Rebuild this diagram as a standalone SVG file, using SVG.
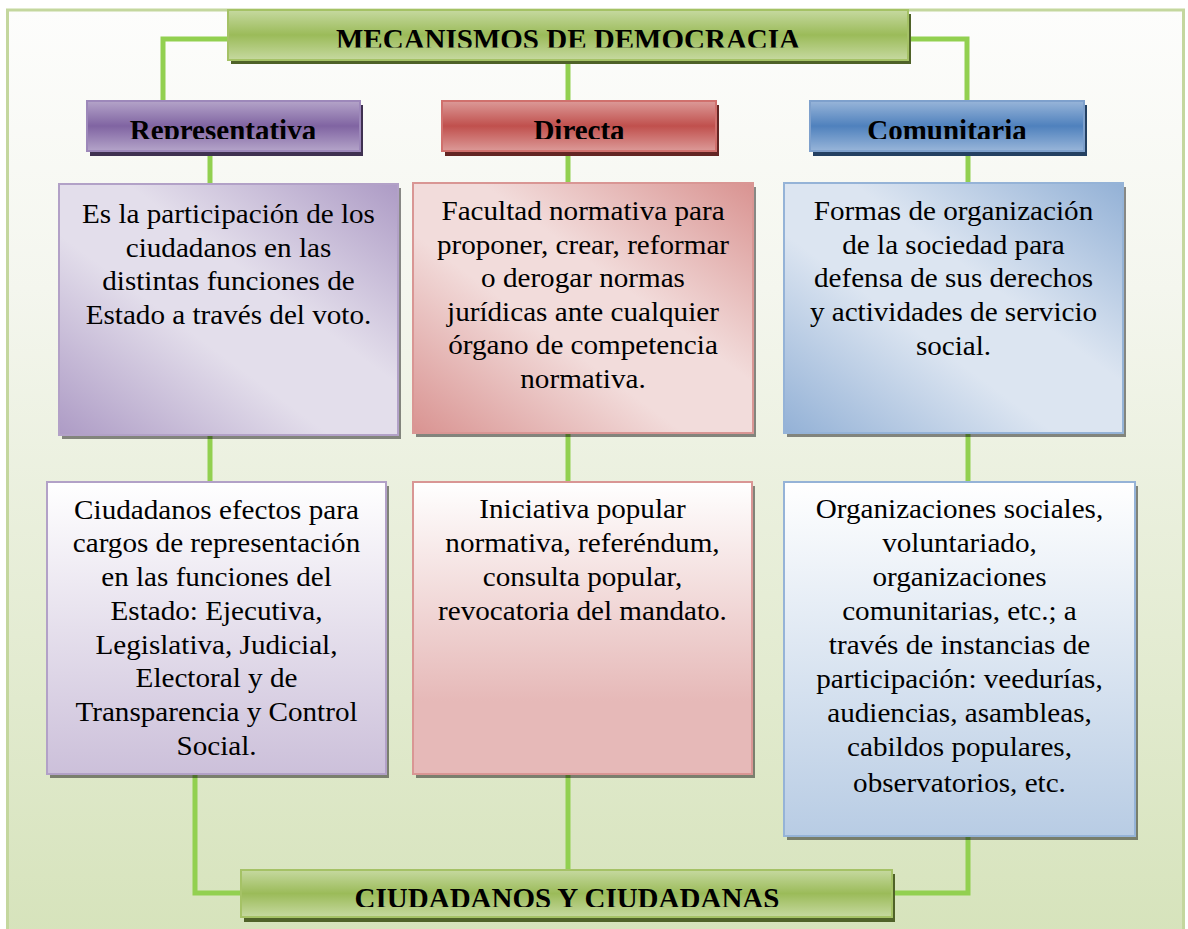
<svg xmlns="http://www.w3.org/2000/svg" width="1188" height="929" viewBox="0 0 1188 929">
<defs>
<linearGradient id="bg" x1="0" y1="0" x2="0" y2="1">
<stop offset="0" stop-color="#fdfdfc"/>
<stop offset="0.3" stop-color="#f4f6ee"/>
<stop offset="1" stop-color="#d6e3bb"/>
</linearGradient>
<linearGradient id="hGreen" x1="0" y1="0" x2="0" y2="1">
<stop offset="0" stop-color="#c6d9a0"/><stop offset="0.5" stop-color="#9bbb59"/><stop offset="1" stop-color="#c6d9a0"/>
</linearGradient>
<linearGradient id="hPurple" x1="0" y1="0" x2="0" y2="1">
<stop offset="0" stop-color="#b4a4c9"/><stop offset="0.5" stop-color="#8064a2"/><stop offset="1" stop-color="#b4a4c9"/>
</linearGradient>
<linearGradient id="hRed" x1="0" y1="0" x2="0" y2="1">
<stop offset="0" stop-color="#dc9a98"/><stop offset="0.5" stop-color="#c0504d"/><stop offset="1" stop-color="#dc9a98"/>
</linearGradient>
<linearGradient id="hBlue" x1="0" y1="0" x2="0" y2="1">
<stop offset="0" stop-color="#98b5d9"/><stop offset="0.5" stop-color="#4f81bd"/><stop offset="1" stop-color="#98b5d9"/>
</linearGradient>
<linearGradient id="dPurple" x1="1" y1="0" x2="0" y2="1">
<stop offset="0" stop-color="#ad9bc5"/><stop offset="0.4" stop-color="#e3deeb"/><stop offset="0.6" stop-color="#e3deeb"/><stop offset="1" stop-color="#ad9bc5"/>
</linearGradient>
<linearGradient id="dRed" x1="1" y1="0" x2="0" y2="1">
<stop offset="0" stop-color="#d99391"/><stop offset="0.4" stop-color="#f2dcdb"/><stop offset="0.6" stop-color="#f2dcdb"/><stop offset="1" stop-color="#d99391"/>
</linearGradient>
<linearGradient id="dBlue" x1="1" y1="0" x2="0" y2="1">
<stop offset="0" stop-color="#93b1d6"/><stop offset="0.4" stop-color="#dce5f1"/><stop offset="0.6" stop-color="#dce5f1"/><stop offset="1" stop-color="#93b1d6"/>
</linearGradient>
<linearGradient id="vPurple" x1="0" y1="0" x2="0" y2="1">
<stop offset="0" stop-color="#ffffff"/><stop offset="1" stop-color="#ccc0da"/>
</linearGradient>
<linearGradient id="vRed" x1="0" y1="0" x2="0" y2="1">
<stop offset="0" stop-color="#ffffff"/><stop offset="0.75" stop-color="#e6b9b8"/><stop offset="1" stop-color="#e6b9b8"/>
</linearGradient>
<linearGradient id="vBlue" x1="0" y1="0" x2="0" y2="1">
<stop offset="0" stop-color="#ffffff"/><stop offset="1" stop-color="#b8cce4"/>
</linearGradient>
<clipPath id="cTop"><rect x="228" y="10" width="680" height="37.5"/></clipPath>
<clipPath id="cMid"><rect x="80" y="101" width="1010" height="38"/></clipPath>
<clipPath id="cBot"><rect x="241" y="870" width="651" height="37"/></clipPath>
<style>
.conn{fill:none;stroke:#92d050;stroke-width:5;stroke-linejoin:miter}
.hd{font-family:"Liberation Serif","Times New Roman",serif;font-weight:bold;font-size:29px;text-anchor:middle;fill:#000}
.tx{font-family:"Liberation Serif","Times New Roman",serif;font-size:26.5px;text-anchor:middle;fill:#000}
.sh{fill:#000;fill-opacity:0.45}
</style>
</defs>

<rect x="0" y="0" width="1188" height="929" fill="#ffffff"/>
<rect x="7.5" y="10" width="1176" height="930" fill="url(#bg)" stroke="#c4d79e" stroke-width="3"/>

<g id="connectors">
<polyline class="conn" points="228,39 163,39 163,101"/>
<polyline class="conn" points="568,60 568,101"/>
<polyline class="conn" points="908,39 967,39 967,101"/>
<polyline class="conn" points="210,151 210,184"/>
<polyline class="conn" points="568,151 568,183"/>
<polyline class="conn" points="968,151 968,183"/>
<polyline class="conn" points="210,435 210,482"/>
<polyline class="conn" points="568,433 568,482"/>
<polyline class="conn" points="968,433 968,482"/>
<polyline class="conn" points="195,774 195,893 241,893"/>
<polyline class="conn" points="568,774 568,870"/>
<polyline class="conn" points="968,836 968,893 892,893"/>
</g>

<g id="mecanismos">
<rect x="231" y="14" width="680" height="50" fill="#4f6228"/>
<rect x="228" y="10" width="680" height="50" fill="url(#hGreen)" stroke="#a5c266" stroke-width="2"/>
<text class="hd" x="568" y="49" clip-path="url(#cTop)">MECANISMOS DE DEMOCRACIA</text>
</g>

<g id="representativa">
<rect x="90" y="105" width="273" height="51" fill="#3f3151"/>
<rect x="87" y="101" width="273" height="50" fill="url(#hPurple)" stroke="#9d88ba" stroke-width="2"/>
<text class="hd" x="223" y="140" clip-path="url(#cMid)">Representativa</text>
</g>

<g id="directa">
<rect x="445" y="105" width="274" height="51" fill="#632523"/>
<rect x="442" y="101" width="274" height="50" fill="url(#hRed)" stroke="#d0706d" stroke-width="2"/>
<text class="hd" x="579" y="140" clip-path="url(#cMid)">Directa</text>
</g>

<g id="comunitaria">
<rect x="813" y="105" width="274" height="51" fill="#244061"/>
<rect x="810" y="101" width="274" height="50" fill="url(#hBlue)" stroke="#7ea0cc" stroke-width="2"/>
<text class="hd" x="947" y="140" clip-path="url(#cMid)">Comunitaria</text>
</g>

<g id="rep-def">
<rect class="sh" x="62" y="188" width="339" height="251"/>
<rect x="59" y="184" width="339" height="251" fill="url(#dPurple)" stroke="#b2a1c7" stroke-width="2"/>
<text class="tx" transform="translate(228.5 0) scale(1.1 1)"><tspan x="0" y="223">Es la participación de los</tspan><tspan x="0" y="257">ciudadanos en las</tspan><tspan x="0" y="290">distintas funciones de</tspan><tspan x="0" y="324">Estado a través del voto.</tspan></text>
</g>

<g id="dir-def">
<rect class="sh" x="416" y="187" width="340" height="250"/>
<rect x="413" y="183" width="340" height="250" fill="url(#dRed)" stroke="#d99694" stroke-width="2"/>
<text class="tx" transform="translate(583 0) scale(1.1 1)"><tspan x="0" y="220">Facultad normativa para</tspan><tspan x="0" y="254">proponer, crear, reformar</tspan><tspan x="0" y="287">o derogar normas</tspan><tspan x="0" y="321">jurídicas ante cualquier</tspan><tspan x="0" y="354">órgano de competencia</tspan><tspan x="0" y="388">normativa.</tspan></text>
</g>

<g id="com-def">
<rect class="sh" x="787" y="187" width="339" height="250"/>
<rect x="784" y="183" width="339" height="250" fill="url(#dBlue)" stroke="#95b3d7" stroke-width="2"/>
<text class="tx" transform="translate(953.5 0) scale(1.1 1)"><tspan x="0" y="220">Formas de organización</tspan><tspan x="0" y="254">de la sociedad para</tspan><tspan x="0" y="287">defensa de sus derechos</tspan><tspan x="0" y="321">y actividades de servicio</tspan><tspan x="0" y="355">social.</tspan></text>
</g>

<g id="rep-ej">
<rect class="sh" x="50" y="486" width="339" height="292"/>
<rect x="47" y="482" width="339" height="292" fill="url(#vPurple)" stroke="#b2a1c7" stroke-width="2"/>
<text class="tx" transform="translate(216.5 0) scale(1.1 1)"><tspan x="0" y="519">Ciudadanos efectos para</tspan><tspan x="0" y="552">cargos de representación</tspan><tspan x="0" y="586">en las funciones del</tspan><tspan x="0" y="620">Estado: Ejecutiva,</tspan><tspan x="0" y="654">Legislativa, Judicial,</tspan><tspan x="0" y="687">Electoral y de</tspan><tspan x="0" y="721">Transparencia y Control</tspan><tspan x="0" y="755">Social.</tspan></text>
</g>

<g id="dir-ej">
<rect class="sh" x="416" y="486" width="339" height="292"/>
<rect x="413" y="482" width="339" height="292" fill="url(#vRed)" stroke="#d99694" stroke-width="2"/>
<text class="tx" transform="translate(582.5 0) scale(1.1 1)"><tspan x="0" y="518">Iniciativa popular</tspan><tspan x="0" y="552">normativa, referéndum,</tspan><tspan x="0" y="586">consulta popular,</tspan><tspan x="0" y="620">revocatoria del mandato.</tspan></text>
</g>

<g id="com-ej">
<rect class="sh" x="787" y="486" width="351" height="354"/>
<rect x="784" y="482" width="351" height="354" fill="url(#vBlue)" stroke="#95b3d7" stroke-width="2"/>
<text class="tx" transform="translate(959.5 0) scale(1.1 1)"><tspan x="0" y="518">Organizaciones sociales,</tspan><tspan x="0" y="552">voluntariado,</tspan><tspan x="0" y="586">organizaciones</tspan><tspan x="0" y="620">comunitarias, etc.; a</tspan><tspan x="0" y="654">través de instancias de</tspan><tspan x="0" y="688">participación: veedurías,</tspan><tspan x="0" y="722">audiencias, asambleas,</tspan><tspan x="0" y="756">cabildos populares,</tspan><tspan x="0" y="792">observatorios, etc.</tspan></text>
</g>

<g id="ciudadanos">
<rect x="244" y="874" width="651" height="48" fill="#4f6228"/>
<rect x="241" y="870" width="651" height="47" fill="url(#hGreen)" stroke="#a5c266" stroke-width="2"/>
<text class="hd" x="567" y="908" clip-path="url(#cBot)">CIUDADANOS Y CIUDADANAS</text>
</g>
</svg>
